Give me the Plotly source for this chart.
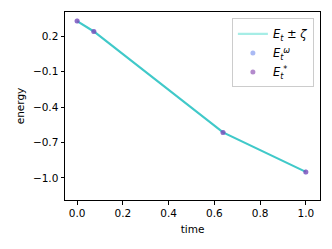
import plotly.graph_objects as go

time = [0.0, 0.073, 0.638, 1.0]
energy_line = [0.327, 0.239, -0.615, -0.949]
energy_omega = [0.327, 0.239, -0.615, -0.949]
energy_star = [0.327, 0.239, -0.615, -0.949]

x_ticks = [0.0, 0.2, 0.4, 0.6, 0.8, 1.0]
x_ticklabels = ["0.0", "0.2", "0.4", "0.6", "0.8", "1.0"]
y_ticks = [0.2, -0.1, -0.4, -0.7, -1.0]
y_ticklabels = ["0.2", "\u22120.1", "\u22120.4", "\u22120.7", "\u22121.0"]

FONT = "DejaVu Sans"
fig = go.Figure()

fig.add_trace(go.Scatter(x=time, y=energy_line, mode="lines",
                         line=dict(color="#40c9c9", width=2.2),
                         showlegend=False, hoverinfo="skip"))
fig.add_trace(go.Scatter(x=[None], y=[None], mode="lines",
                         line=dict(color="#a6ede6", width=2.2),
                         name="<i>E</i><sub><i>t</i></sub> ± <i>ζ</i>"))
fig.add_trace(go.Scatter(x=time, y=energy_omega, mode="markers",
                         marker=dict(color="rgba(100,130,235,0.55)", size=5, line=dict(width=0)),
                         name="<i>E</i><sub><i>t</i></sub><sup><i>ω</i></sup>"))
fig.add_trace(go.Scatter(x=time, y=energy_star, mode="markers",
                         marker=dict(color="rgba(128,60,170,0.6)", size=5, line=dict(width=0)),
                         name="<i>E</i><sub><i>t</i></sub><sup>*</sup>"))

axis_common = dict(showline=True, mirror=True, linecolor="black", linewidth=1,
                   ticks="outside", ticklen=3.5, tickwidth=1, tickcolor="black",
                   showgrid=False, zeroline=False, automargin=False,
                   tickfont=dict(family=FONT, size=10.5, color="black"))

fig.update_layout(
    width=332, height=249,
    margin=dict(l=65, r=12, t=12, b=49),
    paper_bgcolor="white", plot_bgcolor="white",
    font=dict(family=FONT, size=10.5, color="black"),
    xaxis=dict(range=[-0.053, 1.062], tickvals=x_ticks, ticktext=x_ticklabels,
               title=dict(text="time", font=dict(family=FONT, size=10.5), standoff=7),
               **axis_common),
    yaxis=dict(range=[-1.187, 0.404], tickvals=y_ticks, ticktext=y_ticklabels,
               title=dict(text="energy", font=dict(family=FONT, size=10.5), standoff=6),
               **axis_common),
    legend=dict(x=0.976, y=0.966, xanchor="right", yanchor="top",
                bgcolor="rgba(255,255,255,0.8)", bordercolor="#cccccc", borderwidth=1,
                font=dict(family=FONT, size=11.5), itemwidth=30),
    showlegend=True,
)

fig.write_html("out.html", config={"displayModeBar": False},
               post_script="document.body.style.margin='0';")
